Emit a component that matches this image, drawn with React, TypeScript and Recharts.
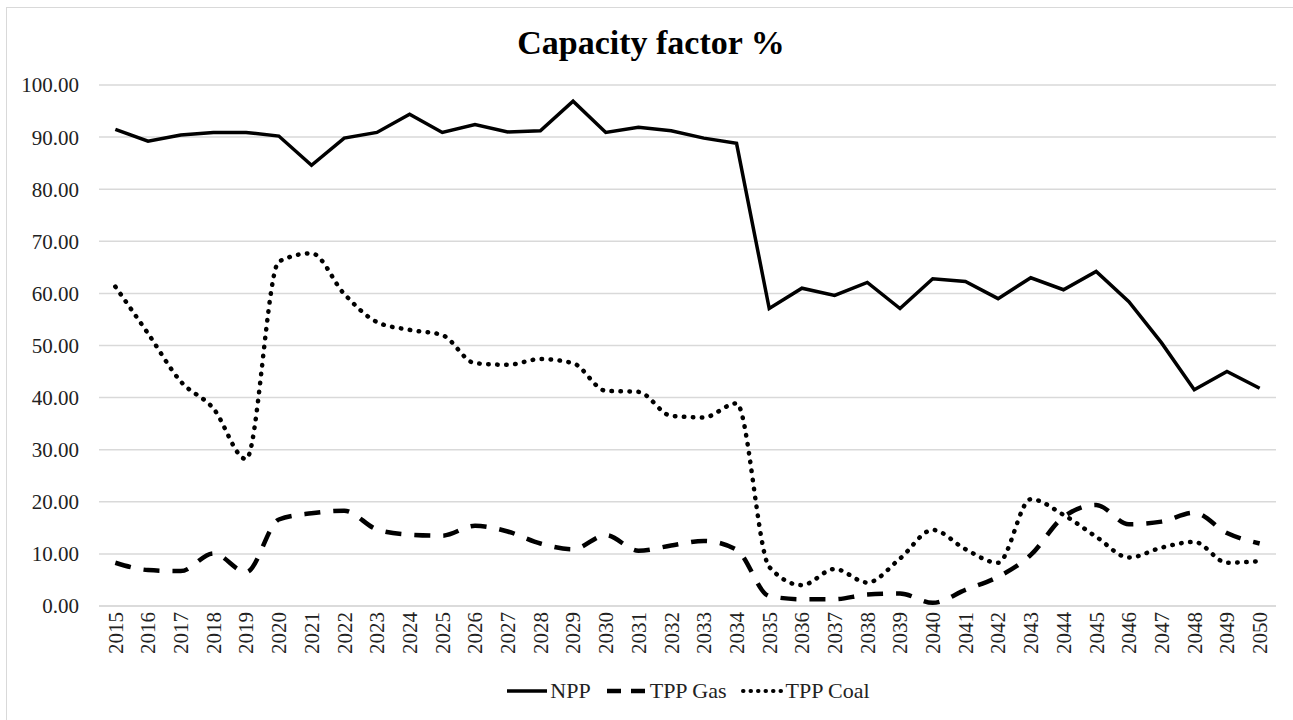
import React from 'react';
import { LineChart, Line, XAxis, YAxis, CartesianGrid, Legend } from 'recharts';

const years = [
  2015, 2016, 2017, 2018, 2019, 2020, 2021, 2022, 2023, 2024, 2025, 2026,
  2027, 2028, 2029, 2030, 2031, 2032, 2033, 2034, 2035, 2036, 2037, 2038,
  2039, 2040, 2041, 2042, 2043, 2044, 2045, 2046, 2047, 2048, 2049, 2050,
];

const npp = [
  91.5, 89.2, 90.4, 90.9, 90.9, 90.2, 84.6, 89.8, 90.9, 94.4, 90.9, 92.4,
  91.0, 91.2, 96.9, 90.9, 91.9, 91.2, 89.8, 88.8, 57.1, 61.0, 59.6, 62.1,
  57.1, 62.8, 62.3, 59.0, 63.0, 60.7, 64.2, 58.4, 50.5, 41.5, 45.0, 41.8,
];

const tppGas = [
  8.3, 6.9, 6.7, 10.1, 6.5, 16.6, 17.8, 18.3, 14.7, 13.7, 13.5, 15.4,
  14.3, 12.0, 10.9, 13.6, 10.6, 11.6, 12.5, 10.8, 1.9, 1.3, 1.3, 2.2,
  2.4, 0.6, 3.1, 5.6, 9.8, 17.1, 19.4, 15.7, 16.2, 17.9, 14.0, 12.0,
];

const tppCoal = [
  61.3, 52.3, 43.1, 37.9, 28.2, 66.1, 67.7, 59.9, 54.5, 53.0, 52.0, 46.6,
  46.3, 47.4, 46.6, 41.3, 41.1, 36.5, 36.2, 38.9, 7.5, 4.0, 7.1, 4.5,
  9.1, 14.6, 10.9, 8.3, 20.5, 17.5, 13.3, 9.3, 11.2, 12.3, 8.3, 8.6,
];

const yTicks = [0, 10, 20, 30, 40, 50, 60, 70, 80, 90, 100];

const data = years.map((y, i) => ({
  year: String(y),
  npp: npp[i],
  gas: tppGas[i],
  coal: tppCoal[i],
}));

const FONT = '"Liberation Serif", "Times New Roman", serif';

// half a category band on each side, like Excel's "between tick marks"
const HALF_BAND = 1177 / years.length / 2;

const YearTick = (props: any) => {
  const { x, y, payload } = props;
  return (
    <g transform={`translate(${x},${y})`}>
      <text
        transform="rotate(-90)"
        textAnchor="end"
        dy="0.35em"
        fontFamily={FONT}
        fontSize={21}
        fill="#222"
      >
        {payload.value}
      </text>
    </g>
  );
};

const legendItems = [
  { label: 'NPP', dash: undefined, width: 3.5, cap: 'butt' },
  { label: 'TPP Gas', dash: '14 10', width: 4.5, cap: 'butt' },
  { label: 'TPP Coal', dash: '0.5 7', width: 4, cap: 'round' },
];

const LegendContent = () => (
  <div
    style={{
      display: 'flex',
      justifyContent: 'center',
      alignItems: 'center',
      height: 30,
      fontFamily: FONT,
      fontSize: 22,
      color: '#222',
    }}
  >
    {legendItems.map((it) => (
      <div key={it.label} style={{ display: 'flex', alignItems: 'center', margin: '0 7px' }}>
        <svg width={44} height={20}>
          <line
            x1={2}
            y1={10}
            x2={42}
            y2={10}
            stroke="#000"
            strokeWidth={it.width}
            strokeDasharray={it.dash}
            strokeLinecap={it.cap as any}
          />
        </svg>
        <span style={{ marginLeft: 1 }}>{it.label}</span>
      </div>
    ))}
  </div>
);

export default function App() {
  return (
    <div
      style={{
        position: 'absolute',
        left: 6,
        top: 7,
        width: 1290,
        height: 720,
        border: '1.5px solid #d9d9d9',
        background: '#fff',
        boxSizing: 'border-box',
      }}
    >
      <div
        style={{
          position: 'absolute',
          left: 0,
          top: 16,
          width: 1288,
          textAlign: 'center',
          fontFamily: FONT,
          fontWeight: 'bold',
          fontSize: 34,
          color: '#000',
        }}
      >
        Capacity factor %
      </div>
      <LineChart
        width={1288}
        height={718}
        data={data}
        margin={{ top: 77, right: 19, bottom: 20, left: 0 }}
      >
        <CartesianGrid vertical={false} stroke="#d9d9d9" strokeWidth={1.5} />
        <XAxis
          dataKey="year"
          interval={0}
          height={70}
          padding={{ left: HALF_BAND, right: HALF_BAND }}
          axisLine={{ stroke: '#d9d9d9', strokeWidth: 1.5 }}
          tickLine={false}
          tickMargin={0}
          tick={<YearTick />}
        />
        <YAxis
          width={92}
          domain={[0, 100]}
          ticks={yTicks}
          axisLine={false}
          tickLine={false}
          tickMargin={14}
          tickFormatter={(v: number) => v.toFixed(2)}
          tick={{ fontFamily: FONT, fontSize: 21, fill: '#222' }}
        />
        <Legend
          verticalAlign="bottom"
          height={30}
          content={<LegendContent />}
          wrapperStyle={{ left: 92, width: 1177 }}
        />
        <Line
          type="linear"
          dataKey="npp"
          name="NPP"
          stroke="#000"
          strokeWidth={3.5}
          dot={false}
          activeDot={false}
          isAnimationActive={false}
        />
        <Line
          type="monotone"
          dataKey="gas"
          name="TPP Gas"
          stroke="#000"
          strokeWidth={4.5}
          strokeDasharray="16 13"
          dot={false}
          activeDot={false}
          isAnimationActive={false}
        />
        <Line
          type="monotone"
          dataKey="coal"
          name="TPP Coal"
          stroke="#000"
          strokeWidth={4.5}
          strokeDasharray="0.5 8.5"
          strokeLinecap="round"
          dot={false}
          activeDot={false}
          isAnimationActive={false}
        />
      </LineChart>
    </div>
  );
}
